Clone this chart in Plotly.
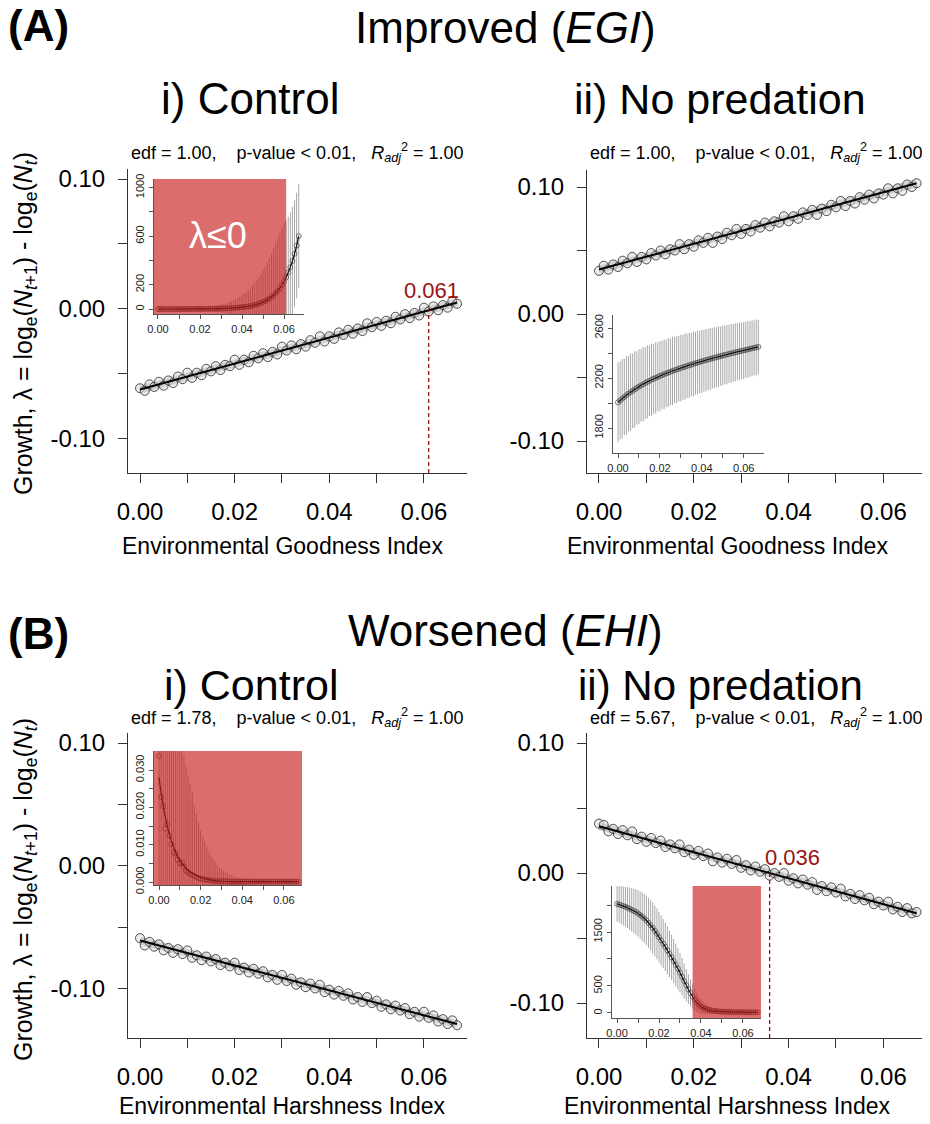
import plotly.graph_objects as go

# The page body has an 8px margin, so the figure is drawn 8px smaller and coordinates shifted.
OFF = 8
W, H = 930 - OFF, 1124 - OFF

# ---------------- data ----------------
EI = [0.000, 0.001, 0.002, 0.003, 0.004, 0.005, 0.006, 0.007, 0.008, 0.009,
      0.010, 0.011, 0.012, 0.013, 0.014, 0.015, 0.016, 0.017, 0.018, 0.019,
      0.020, 0.021, 0.022, 0.023, 0.024, 0.025, 0.026, 0.027, 0.028, 0.029,
      0.030, 0.031, 0.032, 0.033, 0.034, 0.035, 0.036, 0.037, 0.038, 0.039,
      0.040, 0.041, 0.042, 0.043, 0.044, 0.045, 0.046, 0.047, 0.048, 0.049,
      0.050, 0.051, 0.052, 0.053, 0.054, 0.055, 0.056, 0.057, 0.058, 0.059,
      0.060, 0.061, 0.062, 0.063, 0.064, 0.065, 0.066, 0.067]

growth_A_control = [
    -0.061, -0.063, -0.058, -0.060, -0.056, -0.059, -0.055, -0.057, -0.052, -0.054,
    -0.049, -0.053, -0.049, -0.051, -0.046, -0.048, -0.044, -0.047, -0.043, -0.044,
    -0.039, -0.043, -0.039, -0.041, -0.036, -0.038, -0.034, -0.037, -0.033, -0.035,
    -0.029, -0.032, -0.028, -0.031, -0.027, -0.029, -0.024, -0.026, -0.021, -0.025,
    -0.021, -0.023, -0.018, -0.020, -0.016, -0.019, -0.015, -0.017, -0.011, -0.014,
    -0.010, -0.013, -0.009, -0.011, -0.006, -0.008, -0.004, -0.007, -0.003, -0.005,
    0.001, -0.002, 0.002, -0.001, 0.003, 0.001, 0.006, 0.004]

growth_A_nopred = [
    0.034, 0.038, 0.035, 0.039, 0.037, 0.042, 0.040, 0.045, 0.041, 0.045,
    0.043, 0.048, 0.046, 0.050, 0.047, 0.051, 0.050, 0.055, 0.051, 0.055,
    0.053, 0.058, 0.056, 0.060, 0.056, 0.061, 0.059, 0.064, 0.062, 0.067,
    0.063, 0.067, 0.065, 0.070, 0.068, 0.072, 0.069, 0.073, 0.072, 0.077,
    0.073, 0.077, 0.075, 0.080, 0.078, 0.082, 0.078, 0.083, 0.081, 0.086,
    0.084, 0.089, 0.085, 0.089, 0.087, 0.092, 0.090, 0.094, 0.091, 0.095,
    0.094, 0.099, 0.095, 0.099, 0.097, 0.102, 0.100, 0.103]

growth_B_control = [
    -0.059, -0.065, -0.062, -0.066, -0.064, -0.069, -0.067, -0.071, -0.068, -0.072,
    -0.069, -0.075, -0.073, -0.077, -0.074, -0.078, -0.076, -0.081, -0.079, -0.082,
    -0.079, -0.085, -0.083, -0.087, -0.084, -0.088, -0.086, -0.091, -0.089, -0.093,
    -0.089, -0.094, -0.092, -0.097, -0.095, -0.099, -0.096, -0.100, -0.097, -0.103,
    -0.101, -0.105, -0.102, -0.106, -0.104, -0.109, -0.107, -0.111, -0.107, -0.112,
    -0.110, -0.115, -0.113, -0.117, -0.114, -0.118, -0.116, -0.121, -0.119, -0.123,
    -0.119, -0.124, -0.122, -0.127, -0.125, -0.129, -0.126, -0.130]

growth_B_nopred = [
    0.038, 0.037, 0.032, 0.034, 0.030, 0.033, 0.029, 0.032, 0.026, 0.028,
    0.024, 0.027, 0.023, 0.025, 0.020, 0.022, 0.019, 0.022, 0.016, 0.018,
    0.014, 0.017, 0.013, 0.015, 0.009, 0.012, 0.008, 0.011, 0.007, 0.010,
    0.004, 0.006, 0.002, 0.005, 0.001, 0.003, -0.002, 0.000, -0.003, 0.000,
    -0.006, -0.004, -0.008, -0.005, -0.009, -0.007, -0.013, -0.010, -0.014, -0.011,
    -0.015, -0.012, -0.018, -0.016, -0.020, -0.017, -0.021, -0.019, -0.024, -0.022,
    -0.025, -0.022, -0.028, -0.026, -0.030, -0.027, -0.031, -0.030]

fit_x = [0.000, 0.067]
fit_A_control = [-0.062, 0.005]
fit_A_nopred = [0.035, 0.103]
fit_B_control = [-0.061, -0.129]
fit_B_nopred = [0.036, -0.031]

threshold_A = 0.061
threshold_B = 0.036

# insets: population size (mean, sd) along the index
inset_A_control_N = [
    0.1, 0.1, 0.1, 0.1, 0.1, 0.2, 0.2, 0.2, 0.2, 0.3,
    0.3, 0.3, 0.3, 0.4, 0.4, 0.5, 0.5, 0.6, 0.7, 0.8,
    0.9, 1.1, 1.3, 1.4, 1.6, 1.9, 2.2, 2.5, 2.9, 3.3,
    3.8, 4.4, 5, 5.7, 6.6, 7.6, 8.7, 10, 11.5, 13,
    15, 17, 19, 22, 25, 29, 33, 38, 44, 50,
    58, 66, 75, 87, 100, 114, 131, 150, 173, 198,
    228, 262, 300, 345, 396, 455, 523, 600]
inset_A_control_sd = [
    1, 1, 1, 1, 1, 2, 2, 2, 2, 3,
    3, 3, 4, 4, 5, 5, 6, 7, 8, 9,
    10, 11, 13, 14, 16, 18, 20, 23, 26, 29,
    33, 37, 41, 46, 52, 58, 65, 72, 80, 89,
    99, 110, 122, 135, 150, 165, 182, 200, 220, 240,
    262, 285, 310, 335, 360, 385, 410, 435, 455, 470,
    480, 470, 460, 450, 445, 440, 435, 430]

inset_A_nopred_N = [
    2005, 2020, 2035, 2048, 2062, 2075, 2087, 2098, 2110, 2120,
    2131, 2141, 2150, 2160, 2169, 2177, 2186, 2194, 2201, 2209,
    2216, 2223, 2230, 2237, 2243, 2250, 2256, 2262, 2268, 2274,
    2280, 2286, 2291, 2297, 2302, 2307, 2313, 2318, 2323, 2328,
    2333, 2338, 2343, 2348, 2352, 2357, 2362, 2366, 2371, 2375,
    2380, 2384, 2388, 2393, 2397, 2401, 2405, 2409, 2413, 2417,
    2421, 2425, 2429, 2433, 2437, 2441, 2445, 2449]
inset_A_nopred_sd = [
    320, 312, 318, 306, 314, 302, 309, 298, 305, 294,
    300, 290, 297, 286, 293, 283, 289, 279, 286, 276,
    282, 273, 279, 270, 276, 267, 273, 264, 270, 262,
    267, 259, 264, 256, 261, 254, 258, 251, 256, 249,
    253, 246, 250, 244, 248, 241, 245, 239, 243, 237,
    240, 234, 238, 232, 236, 230, 233, 228, 231, 226,
    229, 224, 227, 222, 225, 220, 223, 216]

inset_B_control_N = [
    0.0338, 0.0228, 0.0203, 0.0143, 0.0155, 0.0125, 0.0101, 0.0080, 0.0076, 0.0060,
    0.0050, 0.0052, 0.0041, 0.0030, 0.0026, 0.0022, 0.0019, 0.0016, 0.0013, 0.0011,
    0.0009, 0.0008, 0.0007, 0.0006, 0.0005, 0.0004, 0.0004, 0.0003, 0.0003, 0.0002,
    0.0002, 0.0002, 0.0002, 0.0002, 0.0001, 0.0001, 0.0001, 0.0001, 0.0001, 0.0001,
    0.0001, 0.0001, 0.0001, 0.0001, 0.0001, 0.0001, 0.0001, 0.0001, 0.0001, 0.0001,
    0.0001, 0.0001, 0.0001, 0.0001, 0.0001, 0.0001, 0.0001, 0.0001, 0.0001, 0.0001,
    0.0001, 0.0001, 0.0001, 0.0001, 0.0001, 0.0001, 0.0001, 0.0001]
inset_B_control_sd = [
    0.060, 0.055, 0.052, 0.048, 0.046, 0.044, 0.042, 0.040, 0.038, 0.036,
    0.034, 0.032, 0.030, 0.028, 0.026, 0.024, 0.022, 0.019, 0.017, 0.015,
    0.013, 0.0115, 0.010, 0.0088, 0.0076, 0.0066, 0.0058, 0.0050, 0.0043, 0.0037,
    0.0032, 0.0028, 0.0024, 0.0021, 0.0018, 0.0016, 0.0014, 0.0012, 0.0011, 0.0010,
    0.0009, 0.0008, 0.0008, 0.0007, 0.0007, 0.0007, 0.0006, 0.0006, 0.0006, 0.0006,
    0.0005, 0.0005, 0.0005, 0.0005, 0.0005, 0.0005, 0.0005, 0.0005, 0.0005, 0.0005,
    0.0005, 0.0005, 0.0005, 0.0005, 0.0005, 0.0005, 0.0005, 0.0005]
inset_B_control_fit_x = [0.000, 0.001, 0.002, 0.003, 0.004, 0.005, 0.006, 0.007, 0.008, 0.009,
                         0.010, 0.012, 0.014, 0.016, 0.018, 0.020, 0.025, 0.030, 0.040, 0.067]
inset_B_control_fit = [0.0280, 0.0240, 0.0205, 0.0175, 0.0150, 0.0128, 0.0110, 0.0094, 0.0080, 0.0068,
                       0.0058, 0.0043, 0.0031, 0.0023, 0.0017, 0.0012, 0.0005, 0.0002, 0.0001, 0.0001]

inset_B_nopred_N = [
    2020, 2010, 1995, 1980, 1965, 1950, 1930, 1910, 1890, 1870,
    1845, 1815, 1785, 1750, 1715, 1670, 1625, 1575, 1520, 1465,
    1405, 1345, 1285, 1225, 1160, 1095, 1030, 960, 890, 820,
    745, 670, 590, 515, 440, 370, 305, 245, 195, 155,
    120, 95, 78, 64, 53, 45, 39, 34, 30, 27,
    25, 23, 21, 20, 19, 18, 17, 16, 15, 15,
    14, 14, 13, 13, 12, 12, 12, 12]
inset_B_nopred_sd = [
    330, 340, 350, 360, 370, 380, 390, 400, 410, 420,
    430, 440, 450, 455, 460, 465, 470, 470, 470, 470,
    465, 460, 455, 450, 440, 430, 420, 410, 395, 380,
    365, 345, 325, 300, 275, 250, 225, 200, 175, 155,
    135, 115, 100, 88, 76, 66, 58, 51, 45, 40,
    36, 33, 30, 28, 26, 24, 22, 21, 20, 19,
    18, 17, 16, 16, 15, 15, 14, 14]

# tick positions: labelled ticks and unlabelled (minor) ticks
x_ticks = [0.00, 0.02, 0.04, 0.06]
x_ticktext = ["0.00", "0.02", "0.04", "0.06"]
x_minor = [0.01, 0.03, 0.05]
y_ticks = [-0.10, 0.00, 0.10]
y_ticktext = ["-0.10", "0.00", "0.10"]
y_minor = [-0.05, 0.05]

inset_A_control_yticks = [0, 200, 600, 1000]
inset_A_control_yminor = [400, 800]
inset_A_nopred_yticks = [1800, 2200, 2600]
inset_A_nopred_yminor = [2000, 2400]
inset_B_control_yticks = [0.000, 0.010, 0.020, 0.030]
inset_B_control_ytext = ["0.000", "0.010", "0.020", "0.030"]
inset_B_control_yminor = [0.005, 0.015, 0.025]
inset_B_nopred_yticks = [0, 500, 1500]
inset_B_nopred_yminor = [1000, 2000]

# ---------------- layout helpers ----------------
FONT = "Liberation Sans, Arial, Helvetica, sans-serif"
AX = "#333333"
DARKRED = "#9b1212"
REDFILL = "rgba(198,24,24,0.63)"


def fx(px):
    return (px - OFF) / W


def fy(py):
    return 1 - (py - OFF) / H


fig = go.Figure()

main_panels = [
    dict(n=1, xd=(128, 467), yd=(169, 473), xr=[-0.00254, 0.0691], yr=[-0.1262, 0.1077],
         y=growth_A_control, fit=fit_A_control),
    dict(n=2, xd=(587, 927), yd=(170, 473), xr=[-0.00253, 0.0692], yr=[-0.1252, 0.1134],
         y=growth_A_nopred, fit=fit_A_nopred),
    dict(n=3, xd=(128, 467), yd=(733, 1038), xr=[-0.00254, 0.0691], yr=[-0.1404, 0.1082],
         y=growth_B_control, fit=fit_B_control),
    dict(n=4, xd=(587, 927), yd=(733, 1038), xr=[-0.00253, 0.0692], yr=[-0.1269, 0.1077],
         y=growth_B_nopred, fit=fit_B_nopred),
]

inset_panels = [
    dict(n=5, xd=(154, 304), yd=(179, 314), xr=[-0.0019, 0.0695], yr=[-41, 1071],
         y=inset_A_control_N, sd=inset_A_control_sd, lx=EI, ly=inset_A_control_N,
         yt=inset_A_control_yticks, ytt=[str(v) for v in inset_A_control_yticks],
         ym=inset_A_control_yminor),
    dict(n=6, xd=(613, 764), yd=(315, 453), xr=[-0.0024, 0.0697], yr=[1600, 2704],
         y=inset_A_nopred_N, sd=inset_A_nopred_sd, lx=EI, ly=inset_A_nopred_N,
         yt=inset_A_nopred_yticks, ytt=[str(v) for v in inset_A_nopred_yticks],
         ym=inset_A_nopred_yminor),
    dict(n=7, xd=(154, 302), yd=(751, 885), xr=[-0.0024, 0.0687], yr=[-0.0008, 0.0351],
         y=inset_B_control_N, sd=inset_B_control_sd, lx=inset_B_control_fit_x,
         ly=inset_B_control_fit, yt=inset_B_control_yticks, ytt=inset_B_control_ytext,
         ym=inset_B_control_yminor),
    dict(n=8, xd=(612, 761), yd=(886, 1018), xr=[-0.0024, 0.0686], yr=[-93, 2352],
         y=inset_B_nopred_N, sd=inset_B_nopred_sd, lx=EI, ly=inset_B_nopred_N,
         yt=inset_B_nopred_yticks, ytt=[str(v) for v in inset_B_nopred_yticks],
         ym=inset_B_nopred_yminor),
]


def axname(kind, n):
    return f"{kind}axis" if n == 1 else f"{kind}axis{n}"


def ref(kind, n):
    return kind if n == 1 else f"{kind}{n}"


for p in main_panels:
    n = p["n"]
    xa, ya = ref("x", n), ref("y", n)
    fig.add_trace(go.Scatter(x=fit_x, y=p["fit"], mode="lines", xaxis=xa, yaxis=ya,
                             line=dict(color="#c4c4c4", width=8), showlegend=False, hoverinfo="skip"))
    fig.add_trace(go.Scatter(x=EI, y=p["y"], mode="markers", xaxis=xa, yaxis=ya,
                             marker=dict(symbol="circle", size=9, color="rgba(222,222,222,0.55)",
                                         line=dict(color="#3c3c3c", width=0.9)),
                             showlegend=False))
    fig.add_trace(go.Scatter(x=fit_x, y=p["fit"], mode="lines", xaxis=xa, yaxis=ya,
                             line=dict(color="black", width=2), showlegend=False))
    common = dict(showgrid=False, zeroline=False, showline=True, linecolor=AX, linewidth=1.2,
                  ticks="outside", ticklen=9, tickwidth=1.2, tickcolor=AX,
                  tickfont=dict(family=FONT, size=24, color="black"), automargin=False,
                  fixedrange=True, ticklabelstandoff=8)
    fig.layout[axname("x", n)] = dict(domain=[fx(p["xd"][0]), fx(p["xd"][1])], range=p["xr"],
                                      anchor=ya, tickmode="array", tickvals=x_ticks,
                                      ticktext=x_ticktext,
                                      minor=dict(tickmode="array", tickvals=x_minor, ticks="outside",
                                                 ticklen=9, tickwidth=1.2, tickcolor=AX),
                                      **common)
    fig.layout[axname("y", n)] = dict(domain=[fy(p["yd"][1]), fy(p["yd"][0])], range=p["yr"],
                                      anchor=xa, tickmode="array", tickvals=y_ticks,
                                      ticktext=y_ticktext,
                                      minor=dict(tickmode="array", tickvals=y_minor, ticks="outside",
                                                 ticklen=9, tickwidth=1.2, tickcolor=AX),
                                      **common)

for p in inset_panels:
    n = p["n"]
    xa, ya = ref("x", n), ref("y", n)
    fig.add_trace(go.Scatter(x=EI, y=p["y"], mode="markers", xaxis=xa, yaxis=ya,
                             marker=dict(symbol="circle-open", size=5, color="#555555",
                                         line=dict(width=0.8)),
                             error_y=dict(type="data", array=p["sd"], visible=True,
                                          color="#9c9c9c", thickness=0.9, width=0),
                             showlegend=False))
    fig.add_trace(go.Scatter(x=p["lx"], y=p["ly"], mode="lines", xaxis=xa, yaxis=ya,
                             line=dict(color="#111111", width=1.2, shape="spline"),
                             showlegend=False))
    common = dict(showgrid=False, zeroline=False, showline=True, linecolor="#555555", linewidth=1,
                  ticks="outside", ticklen=4, tickwidth=1, tickcolor="#555555",
                  tickfont=dict(family=FONT, size=11, color="#222222"), automargin=False,
                  fixedrange=True, ticklabelstandoff=1)
    minor = dict(ticks="outside", ticklen=4, tickwidth=1, tickcolor="#555555", tickmode="array")
    fig.layout[axname("x", n)] = dict(domain=[fx(p["xd"][0]), fx(p["xd"][1])], range=p["xr"],
                                      anchor=ya, tickmode="array", tickvals=x_ticks,
                                      ticktext=x_ticktext, minor=dict(tickvals=x_minor, **minor),
                                      **common)
    fig.layout[axname("y", n)] = dict(domain=[fy(p["yd"][1]), fy(p["yd"][0])], range=p["yr"],
                                      anchor=xa, tickmode="array", tickvals=p["yt"],
                                      ticktext=p["ytt"], tickangle=-90,
                                      minor=dict(tickvals=p["ym"], **minor), **common)

# ---------------- shapes ----------------
shapes = []
shapes.append(dict(type="rect", xref="x5", yref="y5 domain", x0=inset_panels[0]["xr"][0],
                   x1=threshold_A, y0=0, y1=1, fillcolor=REDFILL, line=dict(width=0), layer="above"))
shapes.append(dict(type="rect", xref="x7 domain", yref="y7 domain", x0=0, x1=1, y0=0, y1=1,
                   fillcolor=REDFILL, line=dict(width=0), layer="above"))
shapes.append(dict(type="rect", xref="x8", yref="y8 domain", x0=threshold_B,
                   x1=inset_panels[3]["xr"][1], y0=0, y1=1, fillcolor=REDFILL,
                   line=dict(width=0), layer="above"))
shapes.append(dict(type="line", xref="x", yref="y", x0=threshold_A, x1=threshold_A,
                   y0=main_panels[0]["yr"][0], y1=0.0,
                   line=dict(color=DARKRED, width=1.3, dash="4px,3px"), layer="above"))
shapes.append(dict(type="line", xref="x4", yref="y4", x0=threshold_B, x1=threshold_B,
                   y0=main_panels[3]["yr"][0], y1=0.0,
                   line=dict(color=DARKRED, width=1.3, dash="4px,3px"), layer="above"))
fig.update_layout(shapes=shapes)

# ---------------- annotations ----------------
ann = []


def text(px, py, s, size, color="black", xanchor="center", angle=0, bold=False):
    if bold:
        s = f"<b>{s}</b>"
    ann.append(dict(x=fx(px), y=fy(py), xref="paper", yref="paper", text=s, showarrow=False,
                    xanchor=xanchor, yanchor="middle", textangle=angle,
                    font=dict(family=FONT, size=size, color=color)))


edf = ("edf = {v},&nbsp;&nbsp;&nbsp; p-value &lt; 0.01,&nbsp;&nbsp; <i>R</i><sub><i>adj</i></sub>"
       "<sup>2</sup> = 1.00")
ylab = ("Growth, λ = log<sub>e</sub>(<i>N</i><sub><i>t</i>+1</sub>) - "
        "log<sub>e</sub>(<i>N</i><sub><i>t</i></sub>)")

text(6, 26, "(A)", 44, xanchor="left", bold=True)
text(505, 28, "Improved (<i>EGI</i>)", 44)
text(251, 99, "i) Control", 44)
text(720, 99, "ii) No predation", 43)
text(297, 152, edf.format(v="1.00"), 18)
text(756, 152, edf.format(v="1.00"), 18)
text(25, 324, ylab, 25, angle=-90)
text(282, 546, "Environmental Goodness Index", 23)
text(727, 546, "Environmental Goodness Index", 23)

text(6, 633, "(B)", 44, xanchor="left", bold=True)
text(505, 630, "Worsened (<i>EHI</i>)", 44)
text(251, 685, "i) Control", 43)
text(720, 685, "ii) No predation", 42)
text(297, 717, edf.format(v="1.78"), 18)
text(756, 717, edf.format(v="5.67"), 18)
text(25, 890, ylab, 25, angle=-90)
text(282, 1106, "Environmental Harshness Index", 23)
text(727, 1106, "Environmental Harshness Index", 23)

text(431, 291, f"{threshold_A:.3f}", 22, color=DARKRED)
text(792, 857, f"{threshold_B:.3f}", 22, color=DARKRED)
text(218, 235, "λ≤0", 36, color="white")

fig.update_layout(annotations=ann, width=W, height=H, autosize=False,
                  margin=dict(l=0, r=0, t=0, b=0),
                  paper_bgcolor="white", plot_bgcolor="rgba(0,0,0,0)",
                  showlegend=False, font=dict(family=FONT))

fig.write_html("out.html")
